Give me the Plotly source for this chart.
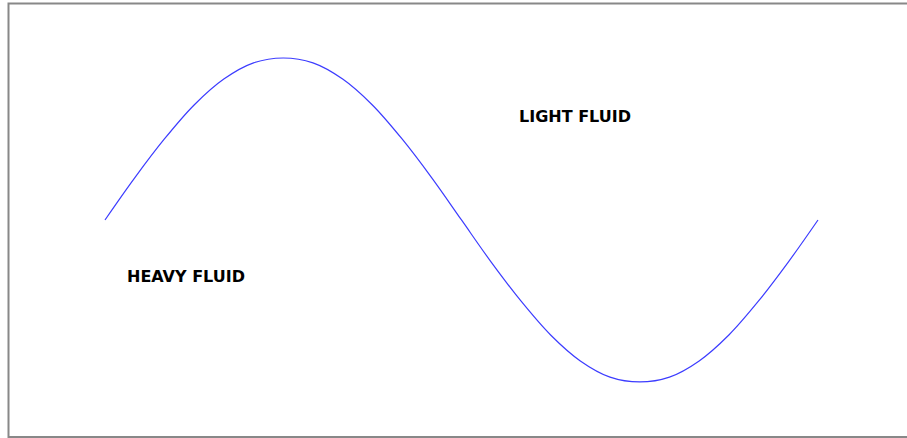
import plotly.graph_objects as go

# Phase angle (degrees) along the interface and its read-off height (normalised)
phase_deg = [0, 15, 30, 45, 60, 75, 90, 105, 120, 135, 150, 165, 180,
             195, 210, 225, 240, 255, 270, 285, 300, 315, 330, 345, 360]
interface = [0.0, 0.26, 0.5, 0.71, 0.87, 0.97, 1.0, 0.97, 0.87, 0.71, 0.5, 0.26, 0.0,
             -0.26, -0.5, -0.71, -0.87, -0.97, -1.0, -0.97, -0.87, -0.71, -0.5, -0.26, 0.0]

label_text = ["LIGHT FLUID", "HEAVY FLUID"]
label_x = [237.3, 40.9]
label_y = [0.636, -0.352]

fig = go.Figure()
fig.add_trace(go.Scatter(x=phase_deg, y=interface, mode="lines",
                         line=dict(color="#3c3cff", width=1.2, shape="spline"),
                         hoverinfo="skip", showlegend=False))

for t, x, y in zip(label_text, label_x, label_y):
    fig.add_annotation(x=x, y=y, text="<b>" + t + "</b>", showarrow=False,
                       font=dict(family="DejaVu Sans", size=16, color="black"))

W, H = 907, 438
fig.add_shape(type="rect", xref="paper", yref="paper",
              x0=8.5 / W, x1=1.02, y0=1 - 437 / H, y1=1 - 3.5 / H,
              line=dict(color="#888888", width=2), layer="above")

fig.update_layout(
    width=W, height=H,
    margin=dict(l=0, r=0, t=0, b=0),
    paper_bgcolor="white", plot_bgcolor="white",
    xaxis=dict(range=[-53.01, 404.94], visible=False, fixedrange=True),
    yaxis=dict(range=[-1.346, 1.358], visible=False, fixedrange=True),
)
fig.write_html("out.html", config={"displayModeBar": False},
               post_script="document.body.style.margin='0';")
